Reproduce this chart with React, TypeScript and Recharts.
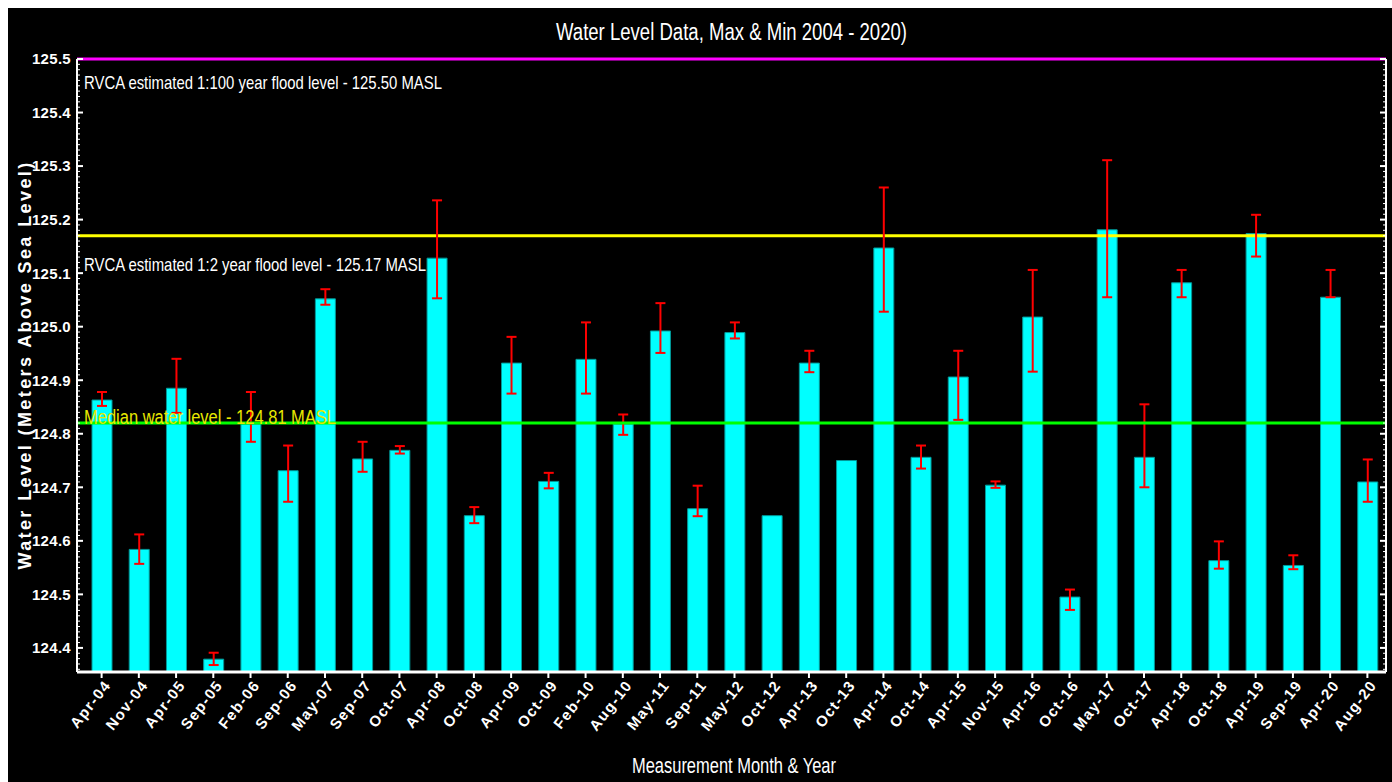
import React from "react";
import { BarChart, Bar, XAxis, YAxis, ReferenceLine, ErrorBar } from "recharts";

const categories = [
  "Apr-04", "Nov-04", "Apr-05", "Sep-05", "Feb-06", "Sep-06", "May-07", "Sep-07", "Oct-07",
  "Apr-08", "Oct-08", "Apr-09", "Oct-09", "Feb-10", "Aug-10", "May-11", "Sep-11", "May-12",
  "Oct-12", "Apr-13", "Oct-13", "Apr-14", "Oct-14", "Apr-15", "Nov-15", "Apr-16", "Oct-16",
  "May-17", "Oct-17", "Apr-18", "Oct-18", "Apr-19", "Sep-19", "Apr-20", "Aug-20",
];

const levels = [
  124.863, 124.584, 124.885, 124.379, 124.818, 124.731, 125.052, 124.753, 124.769,
  125.128, 124.647, 124.932, 124.711, 124.939, 124.818, 124.992, 124.66, 124.989,
  124.647, 124.932, 124.75, 125.147, 124.756, 124.906, 124.704, 125.018, 124.495,
  125.181, 124.756, 125.082, 124.563, 125.174, 124.554, 125.055, 124.71,
];

const maxLevels: (number | null)[] = [
  124.878, 124.612, 124.94, 124.391, 124.878, 124.778, 125.07, 124.785, 124.777,
  125.236, 124.663, 124.981, 124.727, 125.008, 124.836, 125.044, 124.703, 125.008,
  null, 124.955, null, 125.26, 124.778, 124.955, 124.711, 125.106, 124.509,
  125.311, 124.855, 125.106, 124.599, 125.209, 124.573, 125.106, 124.752,
];

const minLevels: (number | null)[] = [
  124.852, 124.557, 124.839, 124.368, 124.785, 124.673, 125.041, 124.729, 124.763,
  125.053, 124.633, 124.875, 124.698, 124.875, 124.798, 124.951, 124.646, 124.978,
  null, 124.915, null, 125.028, 124.735, 124.826, 124.699, 124.916, 124.471,
  125.055, 124.7, 125.055, 124.548, 125.131, 124.547, 125.055, 124.673,
];

const minorTicks = Array.from({ length: 115 }, (_, i) => Math.round((124.36 + i * 0.01) * 100) / 100);

const floodLevel100 = 125.5;
const floodLevel2 = 125.17;
const medianLevel = 124.82;

const chartTitle = "Water Level Data, Max & Min 2004 - 2020)";
const xTitle = "Measurement Month & Year";
const yTitle = "Water Level (Meters Above Sea Level)";
const label100 = "RVCA estimated 1:100 year flood level - 125.50 MASL";
const label2 = "RVCA estimated 1:2 year flood level - 125.17 MASL";
const labelMedian = "Median water level - 124.81 MASL";

const data = categories.map((name, i) => {
  const mx = maxLevels[i];
  const mn = minLevels[i];
  return {
    name,
    level: levels[i],
    err:
      mx == null || mn == null
        ? null
        : [Math.max(0, levels[i] - mn), Math.max(0, mx - levels[i])],
  };
});

const ARIAL = '"Liberation Sans", Arial, sans-serif';

const isMajor = (v: number) => Math.abs(v * 10 - Math.round(v * 10)) < 1e-6;

const LeftTick = (props: any) => {
  const { x, y, payload } = props;
  const v = payload.value as number;
  const major = isMajor(v);
  return (
    <g>
      <line x1={x} x2={x + (major ? 6 : 3)} y1={y} y2={y} stroke="#ffffff" strokeWidth={major ? 2 : 1} />
      {major && (
        <text
          x={x - 6}
          y={y}
          dy="0.36em"
          textAnchor="end"
          fill="#ffffff"
          fontFamily={ARIAL}
          fontWeight="bold"
          fontSize={15}
          letterSpacing={0.3}
        >
          {v.toFixed(1)}
        </text>
      )}
    </g>
  );
};

const RightTick = (props: any) => {
  const { x, y, payload } = props;
  const v = payload.value as number;
  const major = isMajor(v);
  return (
    <line x1={x} x2={x - (major ? 6 : 3)} y1={y} y2={y} stroke="#ffffff" strokeWidth={major ? 2 : 1} />
  );
};

const XTick = (props: any) => {
  const { x, y, payload } = props;
  return (
    <g transform={`translate(${x + 6},${y + 2})`}>
      <text
        transform="rotate(-52)"
        textAnchor="end"
        dy="0.35em"
        fill="#ffffff"
        fontFamily={ARIAL}
        fontWeight="bold"
        fontSize={15}
        letterSpacing={1.4}
      >
        {payload.value}
      </text>
    </g>
  );
};

const makeLabel = (text: string, dy: number, color: string, size: number, len: number) => (props: any) => {
  const vb = props.viewBox || {};
  return (
    <text
      x={(vb.x ?? 0) + 7}
      y={(vb.y ?? 0) + dy}
      fill={color}
      fontFamily={ARIAL}
      fontSize={size}
      textLength={len}
      lengthAdjust="spacingAndGlyphs"
    >
      {text}
    </text>
  );
};

export default function App() {
  return (
    <div
      style={{
        position: "absolute",
        left: 8,
        top: 8,
        width: 1384,
        height: 774,
        background: "#000000",
        overflow: "hidden",
      }}
    >
      <BarChart
        width={1384}
        height={774}
        data={data}
        margin={{ top: 51, right: 4, bottom: 0, left: 0 }}
        barSize={20}
      >
        <XAxis
          dataKey="name"
          interval={0}
          height={110}
          padding={{ left: 6, right: 0 }}
          tick={<XTick />}
          tickSize={6}
          tickMargin={2}
          tickLine={{ stroke: "#ffffff", strokeWidth: 2 }}
          axisLine={{ stroke: "#ffffff", strokeWidth: 3 }}
        />
        <YAxis
          yAxisId="left"
          orientation="left"
          width={69}
          type="number"
          domain={[124.355, 125.5]}
          allowDataOverflow
          ticks={minorTicks}
          interval={0}
          tickSize={0}
          tickMargin={0}
          tickLine={false}
          tick={<LeftTick />}
          axisLine={{ stroke: "#ffffff", strokeWidth: 2 }}
        />
        <YAxis
          yAxisId="right"
          orientation="right"
          width={2}
          type="number"
          domain={[124.355, 125.5]}
          allowDataOverflow
          ticks={minorTicks}
          interval={0}
          tickSize={0}
          tickMargin={0}
          tickLine={false}
          tick={<RightTick />}
          axisLine={{ stroke: "#ffffff", strokeWidth: 2 }}
        />
        <ReferenceLine
          yAxisId="left"
          y={floodLevel100}
          stroke="#ff00ff"
          strokeWidth={3}
          label={makeLabel(label100, 30, "#ffffff", 19, 358)}
        />
        <ReferenceLine
          yAxisId="left"
          y={floodLevel2}
          stroke="#ffff00"
          strokeWidth={3}
          label={makeLabel(label2, 35, "#ffffff", 19, 342)}
        />
        <Bar
          yAxisId="left"
          dataKey="level"
          fill="#00ffff"
          stroke="#009999"
          strokeWidth={1}
          isAnimationActive={false}
        >
          <ErrorBar dataKey="err" direction="y" stroke="#ff0000" strokeWidth={2} width={5} />
        </Bar>
        <ReferenceLine
          yAxisId="left"
          y={medianLevel}
          stroke="#00ff00"
          strokeWidth={3}
          label={makeLabel(labelMedian, 1, "#e8e800", 20, 252)}
        />
      </BarChart>

      <svg
        width={1384}
        height={774}
        style={{ position: "absolute", left: 0, top: 0, pointerEvents: "none" }}
      >
        <text
          x={548}
          y={32}
          fill="#ffffff"
          fontFamily={ARIAL}
          fontSize={23}
          textLength={351}
          lengthAdjust="spacingAndGlyphs"
        >
          {chartTitle}
        </text>
        <text
          x={624}
          y={765}
          fill="#ffffff"
          fontFamily={ARIAL}
          fontSize={22}
          textLength={204}
          lengthAdjust="spacingAndGlyphs"
        >
          {xTitle}
        </text>
        <text
          transform="translate(23, 357) rotate(-90)"
          x={0}
          y={0}
          textAnchor="middle"
          fill="#ffffff"
          fontFamily={ARIAL}
          fontWeight="bold"
          fontSize={18}
          letterSpacing={2.4}
        >
          {yTitle}
        </text>
      </svg>
    </div>
  );
}
